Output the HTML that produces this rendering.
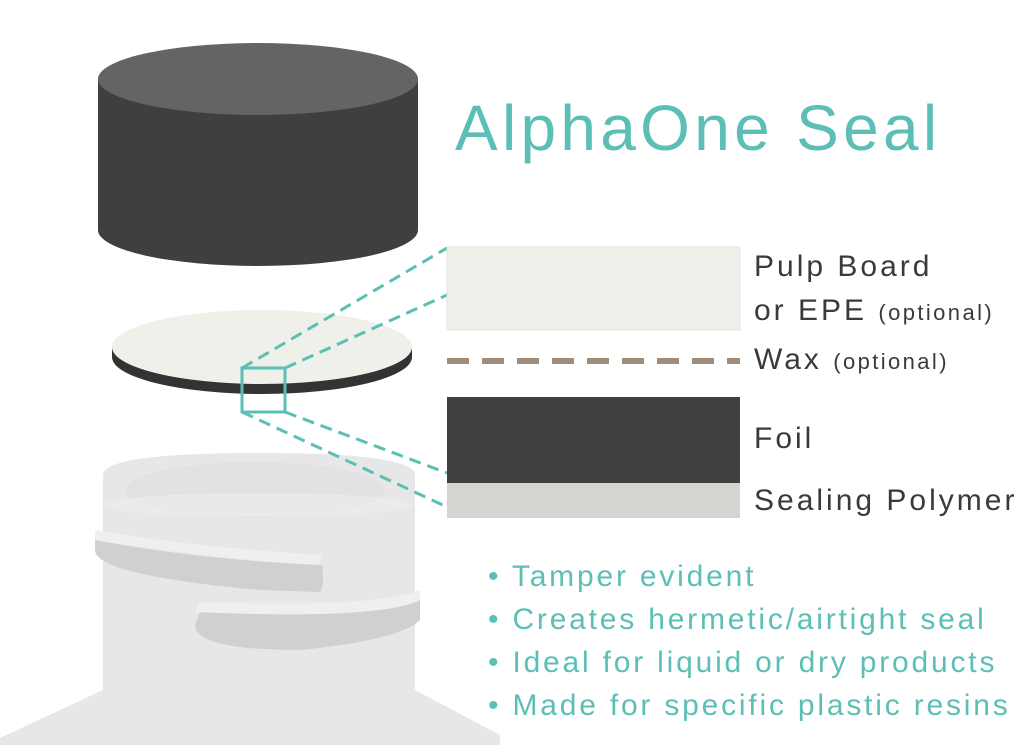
<!DOCTYPE html>
<html><head><style>
body{margin:0;width:1024px;height:745px;background:#fff;overflow:hidden;position:relative;font-family:"Liberation Sans",sans-serif}
.t{position:absolute;white-space:nowrap}
.l{color:#3a3a3a;font-size:30px;letter-spacing:3px}
.l small{font-size:22px;letter-spacing:2.4px}
.b{color:#5cbfb6;font-size:30px;left:488px;letter-spacing:2.8px}
</style></head><body>
<svg width="1024" height="745" style="position:absolute;left:0;top:0">
<path d="M0,745 L0,738 L103,690 L103,475 Q103,453 260,453 Q415,453 415,475 L415,690 L500,735 L500,745 Z" fill="#e7e7e7"/>
<ellipse cx="255" cy="490" rx="130" ry="28" fill="#e2e2e2"/>
<ellipse cx="258" cy="505" rx="155" ry="12" fill="#ececec" opacity=".7"/>
<path d="M95,550 Q95,575 260,590 L320,592 Q325,585 322,565 Q200,560 95,540 Z" fill="#d0d0d0"/>
<path d="M95,540 Q200,558 320,565 L322,555 Q200,548 95,530 Z" fill="#efefef"/>
<path d="M195,625 Q195,650 300,650 Q400,640 420,620 L420,600 Q380,620 200,612 Z" fill="#d0d0d0"/>
<path d="M195,612 Q380,620 420,600 L420,590 Q380,608 200,602 Z" fill="#efefef"/>
<path d="M98,79 L98,230 A160,36 0 0 0 418,230 L418,79 Z" fill="#3f3f3f"/>
<ellipse cx="258" cy="79" rx="160" ry="36" fill="#646465"/>
<path d="M112,347 L112,357 A150,37 0 0 0 412,357 L412,347 Z" fill="#333"/>
<ellipse cx="262" cy="347" rx="150" ry="37" fill="#f0f0ea"/>
<g stroke="#5cbfb6" stroke-width="3" stroke-dasharray="12,7" fill="none">
<line x1="242" y1="368" x2="447" y2="248"/>
<line x1="285" y1="368" x2="447" y2="295"/>
<line x1="242" y1="412" x2="447" y2="507"/>
<line x1="285" y1="412" x2="447" y2="473"/>
</g>
<rect x="242" y="368" width="43" height="44" fill="none" stroke="#5cbfb6" stroke-width="3"/>
<rect x="447" y="247" width="293" height="83" fill="#f0f0ea" stroke="#e3e3dd"/>
<line x1="447" y1="361" x2="740" y2="361" stroke="#a08c7a" stroke-width="6" stroke-dasharray="22,13"/>
<rect x="447" y="397" width="293" height="86" fill="#404040"/>
<rect x="447" y="483" width="293" height="35" fill="#d6d4d1"/>
</svg>
<div class="t" style="left:455px;top:91px;font-size:64px;color:#5cbfb6;letter-spacing:4.3px">AlphaOne Seal</div>
<div class="t l" style="left:754px;top:250px">Pulp Board</div>
<div class="t l" style="left:754px;top:294px">or EPE <small>(optional)</small></div>
<div class="t l" style="left:754px;top:343px">Wax <small>(optional)</small></div>
<div class="t l" style="left:754px;top:422px">Foil</div>
<div class="t l" style="left:754px;top:484px">Sealing Polymer</div>
<div class="t b" style="top:560px">• Tamper evident</div>
<div class="t b" style="top:603px">• Creates hermetic/airtight seal</div>
<div class="t b" style="top:646px">• Ideal for liquid or dry products</div>
<div class="t b" style="top:689px">• Made for specific plastic resins</div>
</body></html>
